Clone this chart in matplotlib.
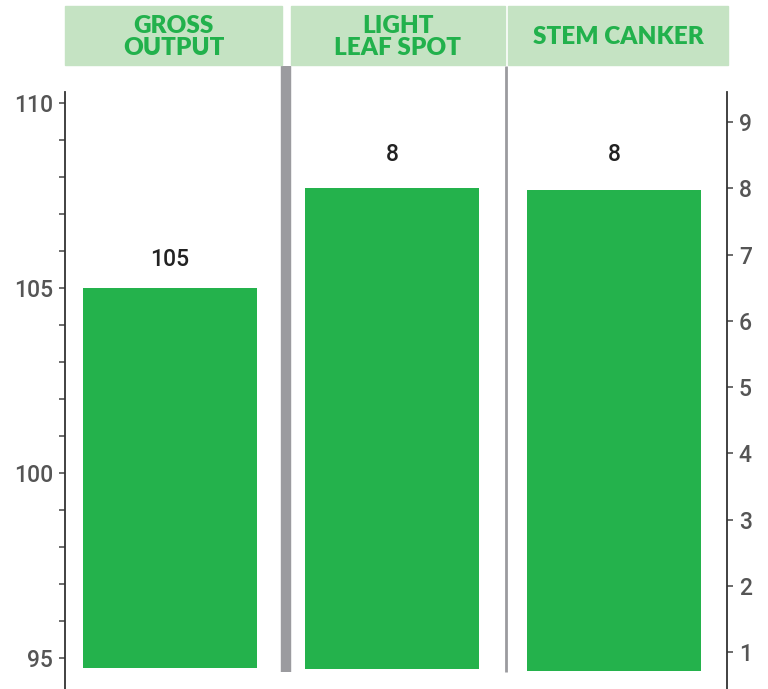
import matplotlib.pyplot as plt
from matplotlib.patches import Rectangle
from matplotlib.ticker import MultipleLocator
import matplotlib.transforms as mtransforms

# ── 데이터 ────────────────────────────────────────
categories = ["GROSS\nOUTPUT", "LIGHT\nLEAF SPOT", "STEM CANKER"]
values = [105, 8, 7.97]
value_labels = ["105", "8", "8"]
bar_bottoms = [94.73, 0.74, 0.71]
left_ticks = [95, 100, 105, 110]
right_ticks = [1, 2, 3, 4, 5, 6, 7, 8, 9]

GREEN = "#24b24c"
HEAD_BG = "#c5e3c3"
HEAD_TXT = "#22b14c"
GRAY = "#9b9b9f"
TICK_TXT = "#555555"

W, H = 768, 689
fig = plt.figure(figsize=(W / 100, H / 100), dpi=100)

# 축 영역 (픽셀 기준)
ax_l, ax_r, ax_t, ax_b = 65, 727, 92, 689
ax = fig.add_axes([ax_l / W, 1 - ax_b / H, (ax_r - ax_l) / W, (ax_b - ax_t) / H])
ax2 = ax.twinx()
ax.set_zorder(ax2.get_zorder() + 1)
ax.patch.set_visible(False)

ax.set_xlim(-0.473, 2.509)
ax.set_ylim(94.162, 110.297)
ax2.set_ylim(0.4415, 9.453)

width = 0.784
# 왼쪽 축 기준 막대
ax.bar(0, values[0] - bar_bottoms[0], bottom=bar_bottoms[0], width=width, color=GREEN)
# 오른쪽 축 기준 막대
for i in (1, 2):
    ax2.bar(i, values[i] - bar_bottoms[i], bottom=bar_bottoms[i], width=width, color=GREEN)

# 값 라벨
ax.annotate(value_labels[0], (0, values[0]), xytext=(0, 20.5), textcoords="offset points",
            ha="center", va="center", fontsize=16.5, color="#222222", family="Roboto",
            fontweight="medium")
for i in (1, 2):
    ax2.annotate(value_labels[i], (i, 8), xytext=(0, 24.5), textcoords="offset points",
                 ha="center", va="center", fontsize=16.5, color="#222222", family="Roboto",
                 fontweight="medium")

# 눈금
for a in (ax, ax2):
    a.set_xticks([])
    for s in ("top", "bottom"):
        a.spines[s].set_visible(False)
ax.spines["right"].set_visible(False)
ax2.spines["left"].set_visible(False)
ax.spines["left"].set_color("#333333")
ax.spines["left"].set_linewidth(1.3)
ax2.spines["right"].set_color("#333333")
ax2.spines["right"].set_linewidth(1.3)

ax.set_yticks(left_ticks)
ax.yaxis.set_minor_locator(MultipleLocator(1))
ax.tick_params(axis="y", which="both", length=4.5, width=1.1, color="#444444",
               labelsize=16.5, labelcolor=TICK_TXT, pad=4)
ax2.set_yticks(right_ticks)
ax2.tick_params(axis="y", which="both", length=4.5, width=1.1, color="#444444",
                labelsize=16.5, labelcolor=TICK_TXT, pad=4)
for lab in ax.get_yticklabels() + ax2.get_yticklabels():
    lab.set_family("Roboto")
    lab.set_fontweight("medium")

# 구분선
trans = mtransforms.blended_transform_factory(ax.transData, ax.transAxes)
y0 = (ax_b - 672) / (ax_b - ax_t)
y1 = (ax_b - 66) / (ax_b - ax_t)
ax.plot([0.5225, 0.5225], [y0, y1], transform=trans, color=GRAY, lw=7.5,
        solid_capstyle="butt", clip_on=False, zorder=0)
ax.plot([1.514, 1.514], [y0, y1], transform=trans, color=GRAY, lw=2,
        solid_capstyle="butt", clip_on=False, zorder=0)

# 헤더 박스
headers = [(65, 282), (291, 505), (508, 728)]
for (x0, x1), name in zip(headers, categories):
    fig.patches.append(Rectangle((x0 / W, 1 - 65 / H), (x1 - x0) / W, 59 / H,
                                 transform=fig.transFigure, color=HEAD_BG, zorder=2))
    fig.text((x0 + x1) / 2 / W, 1 - 37 / H, name, ha="center", va="center",
             fontsize=17.5, fontweight="heavy", color=HEAD_TXT, family="Lato",
             linespacing=1.0, zorder=3)

fig.savefig("out.png", dpi=100)
